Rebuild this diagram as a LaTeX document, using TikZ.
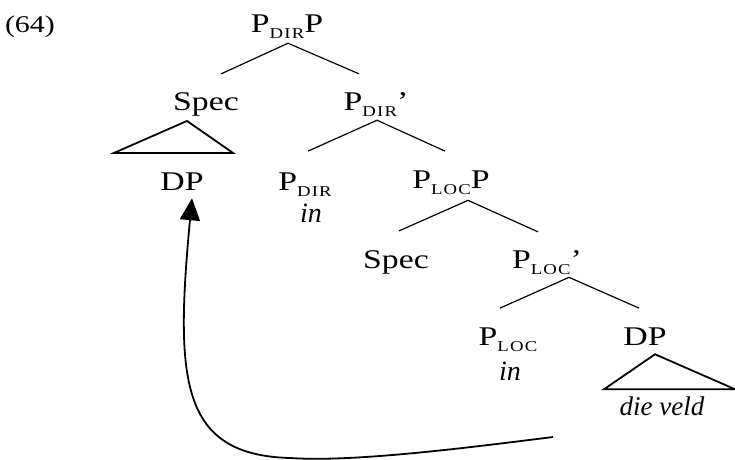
\documentclass[tikz,border=0pt]{standalone}
\usepackage{fontspec}
\setmainfont{Liberation Serif}[FakeStretch=1.25]
\newfontfamily\itfam{Liberation Serif}
\usetikzlibrary{arrows.meta,calc}
\newcommand\sbc[1]{\raisebox{-6pt}{\fontsize{15}{15}\selectfont\addfontfeature{LetterSpace=8}#1}}
\tikzset{
  lbl/.style={inner sep=0pt,anchor=base,font=\fontsize{27}{29}\selectfont},
  itl/.style={lbl,font=\fontsize{28}{30}\itfam\itshape},
  br/.style={line width=1.2pt},
  tri/.style={line width=1.8pt,line join=miter},
  mv/.style={line width=1.8pt,-{Triangle[width=20pt,length=22pt]}}
}
\begin{document}
\begin{tikzpicture}[x=1pt,y=1pt]
\useasboundingbox (0,0) rectangle (735,459);
% nodes (pixel x, 459 - pixel baseline)
\node[lbl,font=\fontsize{24}{26}\selectfont] (ex) at (30,426) {(64)};
\node[lbl] (pdirp) at (287,426) {P\sbc{DIR}P};
\node[lbl] (spec1) at (206,349) {Spec};
\node[lbl] (pdirbar) at (376,349) {P\sbc{DIR}’};
\node[lbl] (dp1) at (182,269) {DP};
\node[lbl] (pdir) at (305,269) {P\sbc{DIR}};
\node[itl] (in1) at (311,237) {in};
\node[lbl] (plocp) at (451,271) {P\sbc{LOC}P};
\node[lbl] (spec2) at (396,191) {Spec};
\node[lbl] (plocbar) at (547,191) {P\sbc{LOC}’};
\node[lbl] (ploc) at (508,114) {P\sbc{LOC}};
\node[itl] (in2) at (510,79) {in};
\node[lbl] (dp2) at (645,114) {DP};
\node[itl,font=\fontsize{27}{29}\itfam\itshape] (dv) at (662,44) {die veld};
% branches
\draw[br] ([xshift=1pt,yshift=-4pt]pdirp.south) -- ([xshift=15pt,yshift=18pt]spec1.north);
\draw[br] ([xshift=1pt,yshift=-4pt]pdirp.south) -- ([xshift=-17pt,yshift=18pt]pdirbar.north);
\draw[br] ([xshift=1pt,yshift=-4pt]pdirbar.south) -- ([xshift=3pt,yshift=21pt]pdir.north);
\draw[br] ([xshift=1pt,yshift=-4pt]pdirbar.south) -- ([xshift=-6pt,yshift=19pt]plocp.north);
\draw[br] ([xshift=17pt,yshift=-6pt]plocp.south) -- ([xshift=3pt,yshift=19pt]spec2.north);
\draw[br] ([xshift=17pt,yshift=-6pt]plocp.south) -- ([xshift=-9pt,yshift=18pt]plocbar.north);
\draw[br] ([xshift=22pt,yshift=-3pt]plocbar.south) -- ([xshift=-8pt,yshift=19pt]ploc.north);
\draw[br] ([xshift=22pt,yshift=-3pt]plocbar.south) -- ([xshift=-6pt,yshift=19pt]dp2.north);
% triangles
\draw[tri] ([xshift=-19pt,yshift=-5pt]spec1.south) -- ++(-73,-32) -- ++(119,0) -- cycle;
\draw[tri] ([xshift=10pt,yshift=-9pt]dp2.south) -- ++(-51,-35) -- ++(131,0) -- cycle;
% movement arrow
\coordinate (src) at (553,22);
\draw[mv] (src) .. controls (450,9) and (350,-3) .. (290,1)
  .. controls (180,4) and (175,79) .. ([xshift=10pt,yshift=-8pt]dp1.south);
\end{tikzpicture}
\end{document}
